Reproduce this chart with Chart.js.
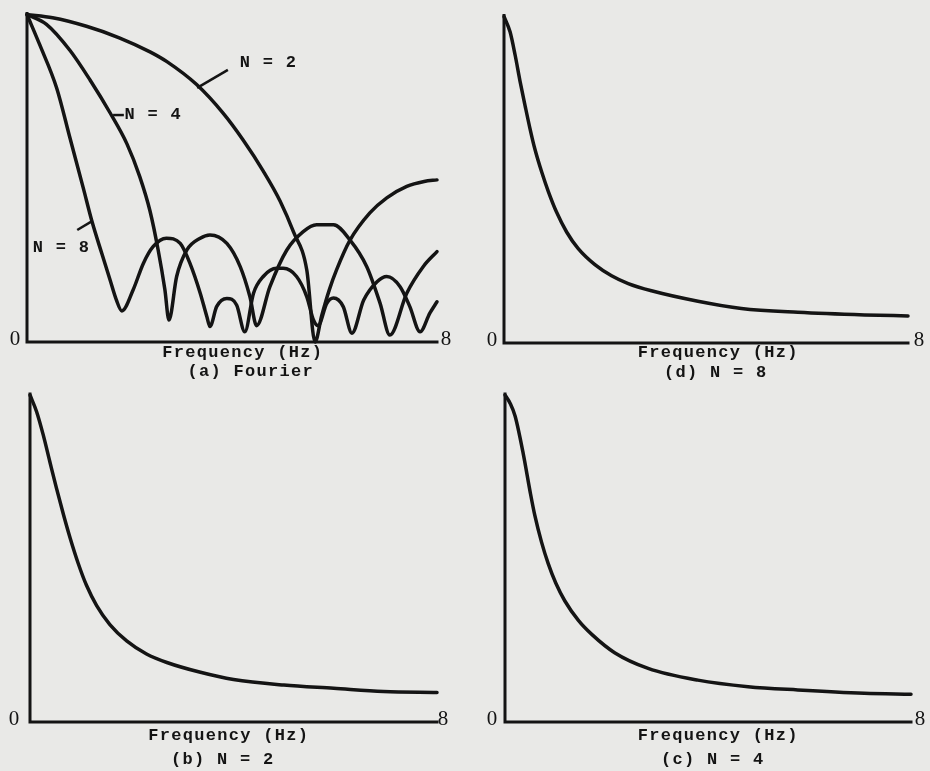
<!DOCTYPE html>
<html>
<head>
<meta charset="utf-8">
<title>Spectra</title>
<script src="https://cdn.jsdelivr.net/npm/chart.js@4.4.1/dist/chart.umd.min.js"></script>
<style>
  html, body { margin: 0; padding: 0; background: #e9e9e7; }
  #sheet { position: relative; width: 930px; height: 771px; overflow: hidden; }
  .panel { position: absolute; }
</style>
</head>
<body>
<div id="sheet">
  <canvas id="panelA" class="panel" width="465" height="390" style="left:0;top:0"></canvas>
  <canvas id="panelD" class="panel" width="465" height="390" style="left:465px;top:0"></canvas>
  <canvas id="panelB" class="panel" width="465" height="381" style="left:0;top:390px"></canvas>
  <canvas id="panelC" class="panel" width="465" height="381" style="left:465px;top:390px"></canvas>
</div>
<script>
/* ---------- data ---------- */
// every panel runs 0..8 Hz, magnitude normalised to its peak
const freqRange = [0, 8];
const magRange = [0, 1];
const freqTicks = ["0", "8"];

// (a) Fourier spectra of the three window lengths
const fourierN2Hz  = [0, 0.5, 1.16, 1.8, 2.4, 2.73, 3.31, 3.83, 4.22, 4.61, 4.94, 5.2, 5.46, 5.62, 5.75, 5.9, 6.04, 6.3, 6.69, 7.02, 7.41, 7.75, 8];
const fourierN2Mag = [1, 0.99, 0.964, 0.929, 0.886, 0.856, 0.786, 0.698, 0.616, 0.522, 0.43, 0.336, 0.219, 0.0, 0.08, 0.16, 0.22, 0.31, 0.394, 0.44, 0.475, 0.49, 0.495];

const fourierN4Hz  = [0, 0.38, 0.84, 1.23, 1.62, 1.95, 2.2, 2.4, 2.56, 2.69, 2.77, 2.92, 3.12, 3.38, 3.57, 3.9, 4.16, 4.35, 4.48, 4.74, 5.07, 5.39, 5.65, 5.98, 6.3, 6.63, 6.89, 7.08, 7.41, 7.73, 8];
const fourierN4Mag = [1, 0.97, 0.89, 0.8, 0.7, 0.605, 0.505, 0.4, 0.28, 0.16, 0.067, 0.2, 0.281, 0.317, 0.327, 0.301, 0.23, 0.138, 0.05, 0.169, 0.281, 0.337, 0.358, 0.358, 0.312, 0.23, 0.118, 0.021, 0.149, 0.23, 0.276];

const fourierN8Hz  = [0, 0.25, 0.58, 0.84, 1.1, 1.27, 1.46, 1.62, 1.74, 1.85, 2.07, 2.27, 2.46, 2.72, 2.99, 3.18, 3.38, 3.51, 3.57, 3.7, 3.9, 4.09, 4.25, 4.42, 4.61, 4.87, 5.0, 5.26, 5.46, 5.59, 5.68, 5.85, 5.98, 6.17, 6.34, 6.57, 6.83, 7.02, 7.28, 7.47, 7.67, 7.86, 8];
const fourierN8Mag = [1, 0.907, 0.775, 0.622, 0.469, 0.367, 0.27, 0.19, 0.13, 0.095, 0.159, 0.24, 0.291, 0.317, 0.301, 0.24, 0.149, 0.077, 0.047, 0.108, 0.133, 0.113, 0.031, 0.149, 0.2, 0.225, 0.225, 0.2, 0.138, 0.067, 0.05, 0.118, 0.134, 0.108, 0.027, 0.128, 0.184, 0.2, 0.169, 0.108, 0.031, 0.088, 0.123];

// (b) N = 2
const decayN2Hz  = [0, 0.13, 0.26, 0.39, 0.52, 0.66, 0.79, 0.95, 1.11, 1.31, 1.57, 1.9, 2.29, 2.69, 3.35, 4.0, 4.99, 5.97, 6.95, 8];
const decayN2Mag = [1, 0.949, 0.878, 0.796, 0.715, 0.633, 0.562, 0.484, 0.418, 0.356, 0.298, 0.248, 0.208, 0.182, 0.152, 0.13, 0.113, 0.103, 0.093, 0.09];

// (c) N = 4
const decayN4Hz  = [0, 0.1, 0.2, 0.36, 0.5, 0.59, 0.72, 0.85, 1.0, 1.18, 1.45, 1.71, 2.16, 2.82, 3.8, 4.79, 5.77, 7.08, 8];
const decayN4Mag = [1, 0.975, 0.935, 0.82, 0.7, 0.63, 0.55, 0.485, 0.425, 0.37, 0.31, 0.268, 0.212, 0.164, 0.128, 0.108, 0.098, 0.088, 0.085];

// (d) N = 8
const decayN8Hz  = [0, 0.12, 0.22, 0.32, 0.42, 0.51, 0.61, 0.75, 0.88, 1.04, 1.24, 1.47, 1.8, 2.13, 2.46, 2.92, 3.84, 4.7, 5.82, 7.14, 8];
const decayN8Mag = [1, 0.953, 0.882, 0.8, 0.725, 0.66, 0.595, 0.522, 0.463, 0.401, 0.34, 0.289, 0.24, 0.206, 0.182, 0.16, 0.128, 0.106, 0.094, 0.086, 0.083];

/* ---------- look ---------- */
const ink = "#141414";
const typeFont = "bold 17px 'Liberation Mono', monospace";
const tickFont = "21px 'Liberation Serif', serif";
const pitch = 11.5;   // typewriter character spacing

// draw a string on a fixed pitch, like a typewriter
function typeText(ctx, str, x, y, align) {
  const w = str.length * pitch;
  let cx = (align === "left" ? x : x - w / 2) + pitch / 2;
  for (const ch of str) {
    ctx.fillText(ch, cx, y);
    cx += pitch;
  }
}

function paperAxes(cfg) {
  return {
    id: "paperAxes",
    beforeDatasetsDraw(chart) {
      const { ctx, scales: { x, y } } = chart;
      const x0 = x.getPixelForValue(freqRange[0]);
      const x8 = x.getPixelForValue(freqRange[1]);
      const yb = y.getPixelForValue(magRange[0]);
      const yt = y.getPixelForValue(magRange[1]);
      ctx.save();
      ctx.strokeStyle = ink;
      ctx.lineWidth = 3;
      ctx.lineCap = "square";
      ctx.beginPath();
      ctx.moveTo(x0, yt - 1);
      ctx.lineTo(x0, yb);
      ctx.lineTo(x8, yb);
      ctx.stroke();
      ctx.restore();
    },
    afterDraw(chart) {
      const { ctx, scales: { x, y } } = chart;
      const x0 = x.getPixelForValue(freqRange[0]);
      const x8 = x.getPixelForValue(freqRange[1]);
      const yb = y.getPixelForValue(magRange[0]);
      ctx.save();
      ctx.fillStyle = ink;
      ctx.textBaseline = "middle";
      ctx.textAlign = "center";

      ctx.font = tickFont;
      ctx.fillText(freqTicks[0], x0 - cfg.tick0Dx, yb - 3);
      ctx.fillText(freqTicks[1], x8 + cfg.tick8Dx, yb - 3);

      ctx.font = typeFont;
      typeText(ctx, "Frequency (Hz)", cfg.titleX, yb + cfg.titleDy);
      typeText(ctx, cfg.caption, cfg.captionX, yb + cfg.captionDy);

      // curve labels with their short leader strokes
      (cfg.notes || []).forEach(n => {
        typeText(ctx, n.text, x.getPixelForValue(n.hz), y.getPixelForValue(n.mag), "left");
      });
      ctx.strokeStyle = ink;
      ctx.lineWidth = 2.5;
      (cfg.leaders || []).forEach(l => {
        ctx.beginPath();
        ctx.moveTo(x.getPixelForValue(l[0]), y.getPixelForValue(l[1]));
        ctx.lineTo(x.getPixelForValue(l[2]), y.getPixelForValue(l[3]));
        ctx.stroke();
      });
      ctx.restore();
    }
  };
}

function makePanel(id, cfg, series) {
  return new Chart(document.getElementById(id), {
    type: "line",
    data: {
      datasets: series.map(s => ({
        data: s[0].map((hz, i) => ({ x: hz, y: s[1][i] })),
        borderColor: ink,
        borderWidth: 3.5,
        borderCapStyle: "round",
        borderJoinStyle: "round",
        pointRadius: 0,
        fill: false,
        cubicInterpolationMode: "monotone",
        clip: 10
      }))
    },
    options: {
      responsive: false,
      animation: false,
      events: [],
      layout: { padding: cfg.padding },
      plugins: { legend: { display: false }, tooltip: { enabled: false } },
      scales: {
        x: { type: "linear", min: freqRange[0], max: freqRange[1], display: false },
        y: { type: "linear", min: magRange[0], max: magRange[1], display: false }
      }
    },
    plugins: [paperAxes(cfg)]
  });
}

makePanel("panelA", {
  padding: { left: 27, right: 28, top: 14.5, bottom: 48 },
  tick0Dx: 12, tick8Dx: 9,
  titleX: 242, titleDy: 11, captionX: 250, captionDy: 30,
  caption: "(a) Fourier",
  notes: [
    { text: "N = 2", hz: 4.14, mag: 0.852 },
    { text: "N = 4", hz: 1.89, mag: 0.693 },
    { text: "N = 8", hz: 0.10, mag: 0.287 }
  ],
  leaders: [
    [3.32, 0.776, 3.92, 0.831],
    [1.68, 0.693, 1.89, 0.693],
    [0.98, 0.342, 1.27, 0.369]
  ]
}, [[fourierN2Hz, fourierN2Mag], [fourierN4Hz, fourierN4Mag], [fourierN8Hz, fourierN8Mag]]);

makePanel("panelD", {
  padding: { left: 39, right: 22, top: 16.5, bottom: 47 },
  tick0Dx: 12, tick8Dx: 11,
  titleX: 252.5, titleDy: 10, captionX: 250, captionDy: 30,
  caption: "(d) N = 8"
}, [[decayN8Hz, decayN8Mag]]);

makePanel("panelB", {
  padding: { left: 30, right: 28, top: 5, bottom: 49 },
  tick0Dx: 16, tick8Dx: 6,
  titleX: 228, titleDy: 14, captionX: 222, captionDy: 38,
  caption: "(b) N = 2"
}, [[decayN2Hz, decayN2Mag]]);

makePanel("panelC", {
  padding: { left: 40, right: 19, top: 5, bottom: 49 },
  tick0Dx: 13, tick8Dx: 9,
  titleX: 252.5, titleDy: 14, captionX: 247, captionDy: 38,
  caption: "(c) N = 4"
}, [[decayN4Hz, decayN4Mag]]);
</script>
</body>
</html>
